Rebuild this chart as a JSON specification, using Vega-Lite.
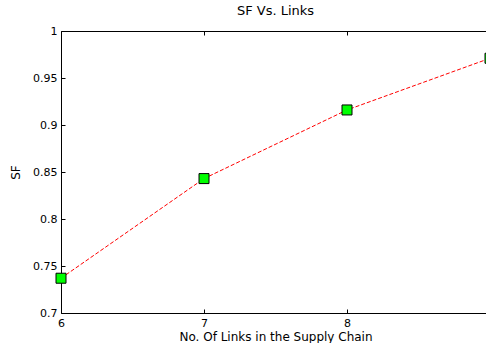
{
  "$schema": "https://vega.github.io/schema/vega-lite/v6.json",
  "autosize": "none",
  "padding": {"left": 61, "top": 31, "right": 0, "bottom": 30},
  "width": 429,
  "height": 282,
  "background": "white",
  "config": {
    "view": {"stroke": "black", "strokeWidth": 1},
    "font": "DejaVu Sans",
    "axis": {
      "grid": false,
      "domain": false,
      "ticks": true,
      "tickColor": "black",
      "tickSize": -4,
      "tickWidth": 1,
      "labelColor": "black",
      "titleColor": "black",
      "labelFont": "DejaVu Sans",
      "titleFont": "DejaVu Sans",
      "labelFontSize": 11,
      "titleFontSize": 12,
      "titleFontWeight": "normal"
    }
  },
  "title": {
    "text": "SF Vs. Links",
    "font": "DejaVu Sans",
    "fontSize": 13,
    "fontWeight": "normal",
    "color": "black",
    "offset": 7,
    "anchor": "middle"
  },
  "data": {
    "values": [
      {"links": 6, "sf": 0.737},
      {"links": 7, "sf": 0.843},
      {"links": 8, "sf": 0.916},
      {"links": 9, "sf": 0.971}
    ]
  },
  "layer": [
    {
      "mark": {"type": "line", "color": "#ff0000", "strokeWidth": 1, "strokeDash": [4, 2]},
      "encoding": {
        "x": {
          "field": "links", "type": "quantitative",
          "scale": {"domain": [6, 9], "nice": false, "zero": false},
          "axis": {"values": [6, 7, 8], "format": "d", "title": "No. Of Links in the Supply Chain", "labelPadding": 8, "titleY": 23, "titleBaseline": "middle", "labelFlush": false}
        },
        "y": {
          "field": "sf", "type": "quantitative",
          "scale": {"domain": [0.7, 1], "nice": false, "zero": false},
          "axis": {"values": [0.7, 0.75, 0.8, 0.85, 0.9, 0.95, 1], "format": ".2~f", "title": "SF", "labelPadding": 8, "titleX": -46, "titleY": 141, "titleBaseline": "middle", "titleAngle": -90, "labelFlush": false}
        }
      }
    },
    {
      "mark": {"type": "point", "shape": "square", "filled": true, "fill": "#00ff00", "stroke": "black", "strokeWidth": 1, "size": 100, "opacity": 1},
      "encoding": {
        "x": {
          "field": "links", "type": "quantitative",
          "axis": {"orient": "top", "values": [6, 7, 8, 9], "labels": false, "title": null}
        },
        "y": {
          "field": "sf", "type": "quantitative",
          "axis": {"orient": "right", "values": [0.7, 0.75, 0.8, 0.85, 0.9, 0.95, 1], "labels": false, "title": null}
        }
      }
    }
  ],
  "resolve": {"axis": {"x": "independent", "y": "independent"}}
}
